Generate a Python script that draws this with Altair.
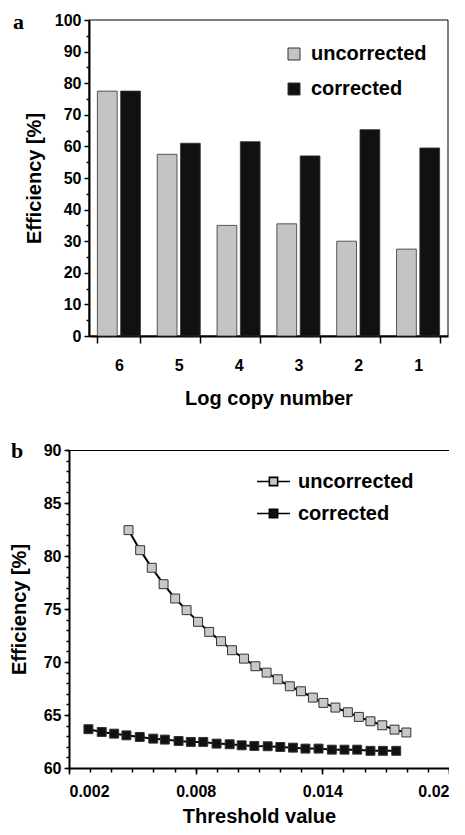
import altair as alt
import pandas as pd

FONT = "Liberation Sans"

# ---------------- data: panel a ----------------
copy_numbers = ["6", "5", "4", "3", "2", "1"]
eff_uncorrected = [77.5, 57.5, 35.0, 35.5, 30.0, 27.5]
eff_corrected = [77.5, 61.0, 61.5, 57.0, 65.3, 59.5]
series = ["uncorrected", "corrected"]

# ---------------- data: panel b ----------------
thr_uncorr = [0.00482, 0.00537, 0.00592, 0.00648, 0.00703, 0.00757, 0.00811, 0.00864,
              0.00920, 0.00972, 0.01029, 0.01083, 0.01136, 0.01189, 0.01246, 0.01299,
              0.01355, 0.01405, 0.01462, 0.01521, 0.01573, 0.01628, 0.01684, 0.01742, 0.01798]
eff_thr_uncorr = [82.44, 80.55, 78.89, 77.34, 75.99, 74.89, 73.79, 72.84, 71.96, 71.11,
                  70.32, 69.60, 69.00, 68.37, 67.71, 67.24, 66.64, 66.14, 65.70, 65.26,
                  64.82, 64.41, 64.03, 63.62, 63.35]
thr_corr = [0.00292, 0.00355, 0.00414, 0.00472, 0.00535, 0.00599, 0.00654, 0.00719,
            0.00777, 0.00836, 0.00899, 0.00961, 0.01018, 0.01078, 0.01141, 0.01201,
            0.01261, 0.01320, 0.01382, 0.01445, 0.01505, 0.01565, 0.01628, 0.01687, 0.01750]
eff_thr_corr = [63.66, 63.40, 63.24, 63.08, 62.93, 62.77, 62.68, 62.55, 62.46, 62.46,
                62.30, 62.24, 62.14, 62.08, 62.05, 61.98, 61.92, 61.83, 61.83, 61.73,
                61.73, 61.73, 61.62, 61.62, 61.62]

# axis tick values
y_major_a = [0, 10, 20, 30, 40, 50, 60, 70, 80, 90, 100]
y_minor_a = [5, 15, 25, 35, 45, 55, 65, 75, 85, 95]
y_major_b = [60, 65, 70, 75, 80, 85, 90]
y_minor_b = [60, 61, 62, 63, 64, 65, 66, 67, 68, 69, 70, 71, 72, 73, 74, 75, 76, 77, 78,
             79, 80, 81, 82, 83, 84, 85, 86, 87, 88, 89, 90]
x_major_b = [0.002, 0.008, 0.014, 0.02]
x_minor_b = [0.002, 0.003, 0.004, 0.005, 0.006, 0.007, 0.008, 0.009, 0.010, 0.011,
             0.012, 0.013, 0.014, 0.015, 0.016, 0.017, 0.018, 0.019, 0.02]
panel_labels = ["a", "b"]

# ---------------- panel a ----------------
bars_df = pd.DataFrame({
    "copy": copy_numbers * 2,
    "series": [series[0]] * len(copy_numbers) + [series[1]] * len(copy_numbers),
    "eff": eff_uncorrected + eff_corrected,
})

A_W = 379       # panel a view width (its plot frame starts 20px inside)
A_H = 316
A_SHIFT = 20

color_a = alt.Scale(domain=series, range=["#c4c4c4", "#111111"])
x_a = alt.Scale(domain=copy_numbers, range=[A_SHIFT, A_W], paddingInner=0.28, paddingOuter=0.14)
y_a = alt.Scale(domain=[0, 100], nice=False, zero=True)

frame_a = alt.Chart(pd.DataFrame({"f": [0]})).mark_rect(
    fill=None, stroke="black", strokeWidth=1
).encode(x=alt.value(A_SHIFT), x2=alt.value(A_W), y=alt.value(0), y2=alt.value(A_H))

bars = alt.Chart(bars_df).mark_bar(stroke="#333333", strokeWidth=0.8).encode(
    x=alt.X("copy:N", sort=copy_numbers, scale=x_a,
            axis=alt.Axis(title="Log copy number", tickBand="extent", labelAngle=0,
                          tickSize=7, tickWidth=1.5, labelPadding=14, titlePadding=15,
                          domainWidth=2)),
    xOffset=alt.XOffset("series:N", sort=series, scale=alt.Scale(paddingInner=0.15)),
    y=alt.Y("eff:Q", scale=y_a,
            axis=alt.Axis(title="Efficiency [%]", orient="left", values=y_major_a,
                          offset=-A_SHIFT, tickSize=5, tickWidth=1.5, labelPadding=3,
                          titlePadding=10, domainWidth=2)),
    color=alt.Color("series:N", sort=series, scale=color_a,
                    legend=alt.Legend(title=None, orient="none", legendX=215, legendY=24,
                                      symbolType="square", symbolSize=144,
                                      symbolStrokeColor="#333333", symbolStrokeWidth=1,
                                      labelFontSize=20, labelFont=FONT, labelFontWeight="bold",
                                      labelOffset=7, rowPadding=15, padding=0)),
)

minor_a = alt.Chart(pd.DataFrame({"v": y_minor_a})).mark_point(opacity=0).encode(
    y=alt.Y("v:Q", scale=y_a,
            axis=alt.Axis(title=None, orient="left", values=y_minor_a, labels=False,
                          offset=-A_SHIFT, domain=False, tickSize=3, tickWidth=1.5)),
)

label_a = alt.Chart(pd.DataFrame({"t": [panel_labels[0]]})).mark_text(
    font="Liberation Serif", fontWeight="bold", fontSize=22, align="left",
    baseline="alphabetic", color="black"
).encode(x=alt.value(-56), y=alt.value(9), text="t:N")

panel_a = alt.layer(frame_a, bars, minor_a, label_a).resolve_axis(
    y="independent").properties(
    width=A_W, height=A_H, view=alt.ViewBackground(stroke=None))

# ---------------- panel b ----------------
lines_df = pd.DataFrame({
    "thr": thr_uncorr + thr_corr,
    "eff": eff_thr_uncorr + eff_thr_corr,
    "series": [series[0]] * len(thr_uncorr) + [series[1]] * len(thr_corr),
})

x_b = alt.Scale(domain=[0.002, 0.02], nice=False, zero=False)
y_b = alt.Scale(domain=[60, 90], nice=False, zero=False)

line = alt.Chart(lines_df).mark_line(color="black", strokeWidth=2).encode(
    x=alt.X("thr:Q", scale=x_b,
            axis=alt.Axis(title="Threshold value", orient="bottom", values=x_major_b,
                          format=".3~f", tickSize=6, tickWidth=1.5, labelPadding=9,
                          titlePadding=7, domainWidth=2)),
    y=alt.Y("eff:Q", scale=y_b,
            axis=alt.Axis(title="Efficiency [%]", orient="left", values=y_major_b,
                          tickSize=5, tickWidth=1.5, labelPadding=3, titlePadding=14,
                          domainWidth=2)),
    detail="series:N",
)

legend_path = "M-1,0H-0.25M0.25,0H1M-0.25,-0.25H0.25V0.25H-0.25Z"

points = alt.Chart(lines_df).mark_point(shape="square", filled=True, size=80,
                                         stroke="#333333", strokeWidth=1, opacity=1).encode(
    x=alt.X("thr:Q", scale=x_b,
            axis=alt.Axis(title=None, orient="bottom", values=x_minor_b, labels=False,
                          domain=False, tickSize=4, tickWidth=1.5)),
    y=alt.Y("eff:Q", scale=y_b,
            axis=alt.Axis(title=None, orient="left", values=y_minor_b, labels=False,
                          domain=False, tickSize=3, tickWidth=1.5)),
    fill=alt.Fill("series:N", sort=series,
                  scale=alt.Scale(domain=series, range=["#c8c8c8", "#111111"]),
                  legend=alt.Legend(title=None, orient="none", legendX=187, legendY=14,
                                    symbolType=legend_path, symbolSize=1089,
                                    symbolStrokeColor="black", symbolStrokeWidth=1.6,
                                    labelFontSize=20, labelFont=FONT, labelFontWeight="bold",
                                    labelOffset=7, rowPadding=4, padding=0)),
)

label_b = alt.Chart(pd.DataFrame({"t": [panel_labels[1]]})).mark_text(
    font="Liberation Serif", fontWeight="bold", fontSize=22, align="left",
    baseline="alphabetic", color="black"
).encode(x=alt.value(-58), y=alt.value(8), text="t:N")

panel_b = alt.layer(line, points, label_b).resolve_axis(
    x="independent", y="independent").properties(
    width=380, height=318, view=alt.ViewBackground(stroke="black", strokeWidth=1))

chart = alt.vconcat(panel_a, panel_b, spacing=31).resolve_scale(
    color="independent", fill="independent"
).resolve_legend(
    color="independent", fill="independent"
).properties(
    padding={"left": 0, "top": 3, "right": -2, "bottom": -1}
).configure_axis(
    labelFont=FONT, titleFont=FONT, labelFontSize=16, titleFontSize=20,
    labelFontWeight="bold", titleFontWeight="bold", labelColor="black", titleColor="black",
    domainColor="black", tickColor="black", grid=False
).configure_legend(
    labelFont=FONT
)

chart.save("out.html", embed_options={"renderer": "svg", "actions": False})
